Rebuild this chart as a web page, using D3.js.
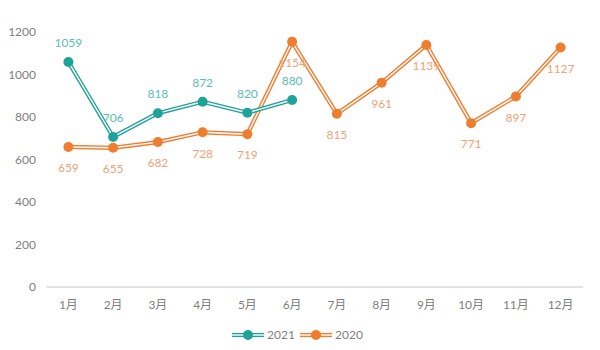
<!DOCTYPE html>
<html>
<head>
<meta charset="utf-8">
<script src="https://cdn.jsdelivr.net/npm/d3@7"></script>
<style>
  body { margin: 0; background: #fff; }
  text { font-family: Lato, "Noto Sans CJK SC", sans-serif; }
</style>
</head>
<body>
<svg id="chart" width="600" height="350"></svg>
<script>
var months = ['1月', '2月', '3月', '4月', '5月', '6月', '7月', '8月', '9月', '10月', '11月', '12月'];
var values2021 = [1059, 706, 818, 872, 820, 880];
var values2020 = [659, 655, 682, 728, 719, 1154, 815, 961, 1139, 771, 897, 1127];
var yTicks = [0, 200, 400, 600, 800, 1000, 1200];

var series = [
    { name: '2021', values: values2021, color: '#1fa398', label: '#5cbdb5', above: true },
    { name: '2020', values: values2020, color: '#ee7d30', label: '#f0a276', above: false }
];

var svg = d3.select('#chart');

var x = d3.scaleBand().domain(months).range([46, 583]).padding(0);
var y = d3.scaleLinear().domain([0, 1200]).range([287, 32]);

// y tick labels (no gridlines)
svg.append('g').selectAll('text').data(yTicks).join('text')
    .attr('x', 36).attr('y', function (d) { return y(d); })
    .attr('dy', '0.35em').attr('text-anchor', 'end')
    .attr('font-size', 12).attr('fill', '#7f7f7f')
    .text(function (d) { return d; });

// x axis baseline
svg.append('line')
    .attr('x1', x.range()[0]).attr('x2', x.range()[1])
    .attr('y1', y(0)).attr('y2', y(0))
    .attr('stroke', '#d9d9d9').attr('stroke-width', 1.5);

// x tick labels
svg.append('g').selectAll('text').data(months).join('text')
    .attr('x', function (d) { return x(d) + x.bandwidth() / 2; })
    .attr('y', 305).attr('dy', '0.35em').attr('text-anchor', 'middle')
    .attr('font-size', 12).attr('fill', '#7f7f7f')
    .text(function (d) { return d; });

var line = d3.line()
    .x(function (d, i) { return x(months[i]) + x.bandwidth() / 2; })
    .y(function (d) { return y(d); });

// draw 2020 first so 2021 sits on top where they cross
series.slice().reverse().forEach(function (s) {
    var g = svg.append('g');
    // double line: thick colour stroke with thin white core
    g.append('path').datum(s.values).attr('d', line)
        .attr('fill', 'none').attr('stroke', s.color).attr('stroke-width', 4.2)
        .attr('stroke-linejoin', 'round');
    g.append('path').datum(s.values).attr('d', line)
        .attr('fill', 'none').attr('stroke', '#fff').attr('stroke-width', 1.4)
        .attr('stroke-linejoin', 'round');
    g.selectAll('circle').data(s.values).join('circle')
        .attr('cx', function (d, i) { return x(months[i]) + x.bandwidth() / 2; })
        .attr('cy', function (d) { return y(d); })
        .attr('r', 5).attr('fill', s.color);
});

series.forEach(function (s) {
    svg.append('g').selectAll('text').data(s.values).join('text')
        .attr('x', function (d, i) { return x(months[i]) + x.bandwidth() / 2; })
        .attr('y', function (d) { return y(d) + (s.above ? -19 : 21); })
        .attr('dy', '0.35em').attr('text-anchor', 'middle')
        .attr('font-size', 12).attr('fill', s.label)
        .text(function (d) { return d; });
});

// legend
var legend = svg.append('g').attr('transform', 'translate(0,335)');
var legendX = [232, 300];
series.forEach(function (s, i) {
    var lg = legend.append('g').attr('transform', 'translate(' + legendX[i] + ',0)');
    lg.append('line').attr('x1', 0).attr('x2', 32).attr('stroke', s.color).attr('stroke-width', 4.2);
    lg.append('line').attr('x1', 0).attr('x2', 32).attr('stroke', '#fff').attr('stroke-width', 1.4);
    lg.append('circle').attr('cx', 16).attr('r', 5).attr('fill', s.color);
    lg.append('text').attr('x', 35).attr('dy', '0.35em')
        .attr('font-size', 12).attr('fill', '#7f7f7f').text(s.name);
});
</script>
</body>
</html>
